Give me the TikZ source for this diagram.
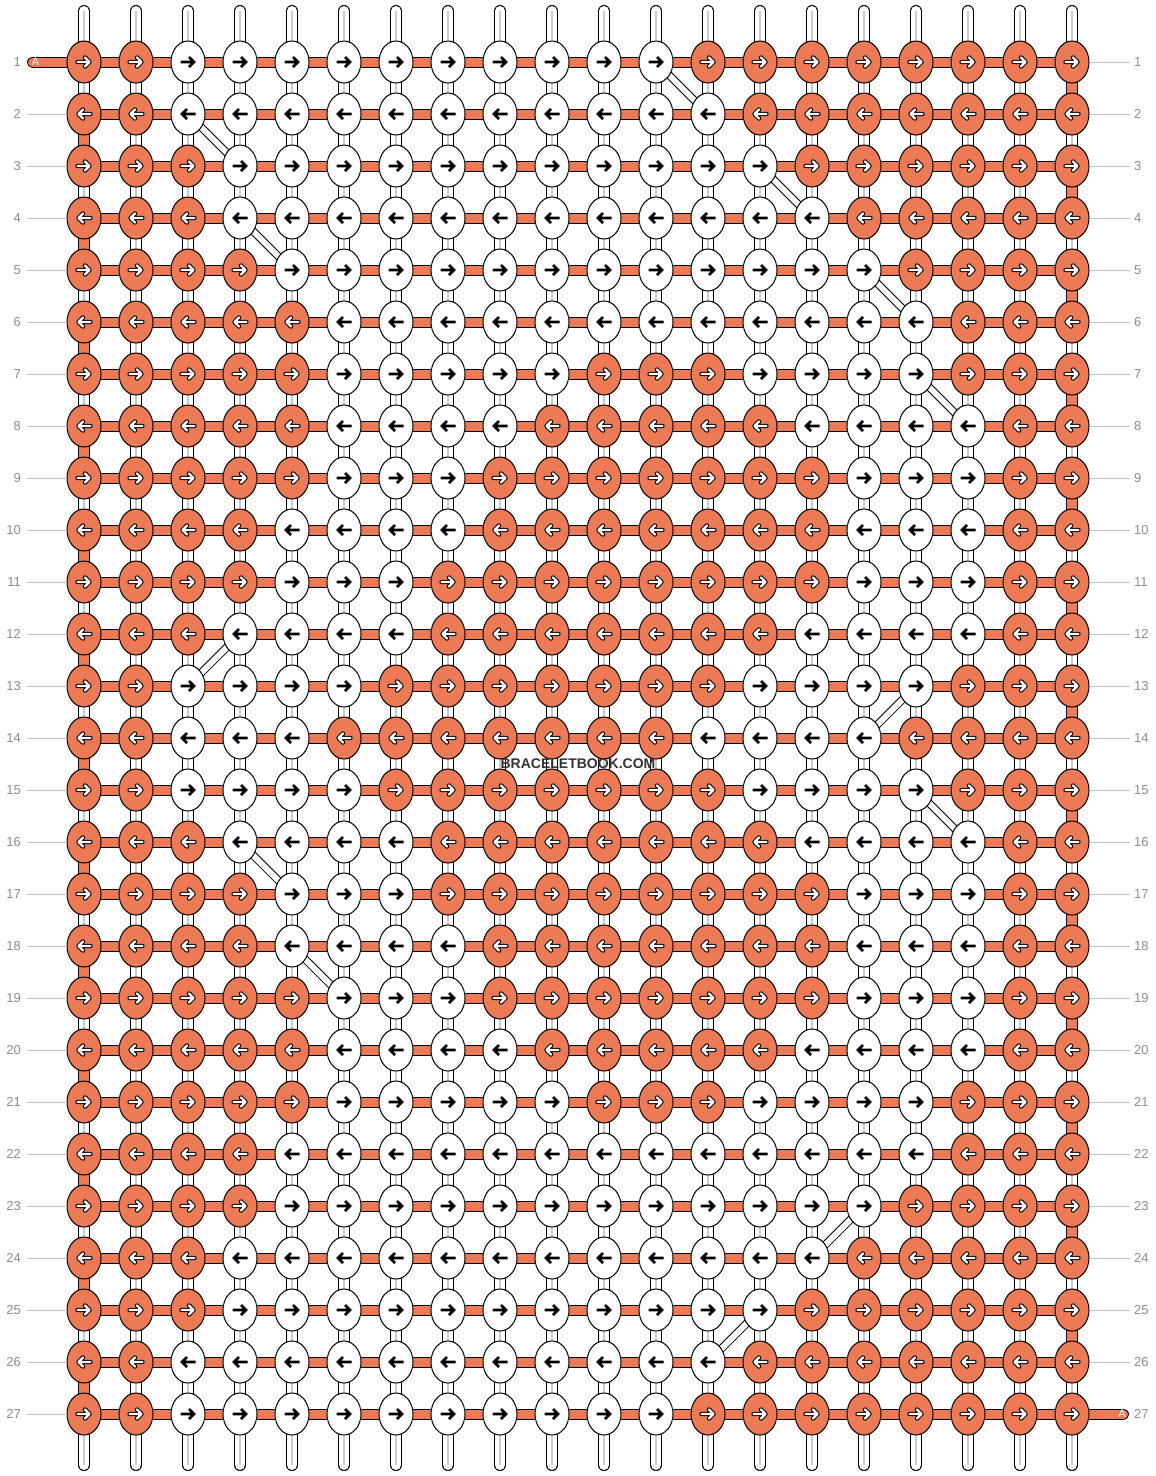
\documentclass[tikz,border=0pt]{standalone}
\usepackage{fontspec}
\setmainfont{Liberation Sans}
\usetikzlibrary{shapes.geometric}
\pgfdeclarelayer{background}
\pgfsetlayers{background,main}
\definecolor{kor}{RGB}{236,122,86}
\definecolor{labgray}{RGB}{140,140,140}
\definecolor{lingray}{RGB}{192,192,192}
\tikzset{
 knot/.style={ellipse, draw=black, line width=1pt, minimum width=34pt, minimum height=42pt, inner sep=0pt},
 tubeout/.style={draw=black, line width=12pt},
 tubein/.style={draw=white, line width=10pt},
 tubemid/.style={draw=gray!40, line width=1.2pt},
 turnin/.style={draw=kor, line width=10pt},
 barout/.style={draw=black, line width=11pt},
 barin/.style={draw=kor, line width=9pt},
 diagout/.style={draw=black, line width=8pt},
 diagin/.style={draw=white, line width=6pt},
 labline/.style={draw=lingray, line width=1pt},
 rowlab/.style={text=labgray, font=\fontsize{13}{15}\selectfont, inner sep=0pt},
 tag/.style={text=white, font=\fontsize{11}{13}\selectfont, inner sep=0pt},
 arrblack/.pic={\draw[line width=2.6pt] (-7.5,0)--(5,0) (1,-5)--(6,0)--(1,5);},
 arrwhite/.pic={\draw[black, line width=4.4pt, line join=round, line cap=round] (-6.5,0)--(5,0) (1,-4.5)--(5.5,0)--(1,4.5);
   \draw[white, line width=2.4pt, line join=round, line cap=round] (-6.5,0)--(5,0) (1,-4.5)--(5.5,0)--(1,4.5);}
}
\begin{document}
\begin{tikzpicture}[x=1pt,y=-1pt]
\useasboundingbox (0,0) rectangle (1156,1476);
% knots
\foreach \rowdata [count=\rr] in {
{1,1,0,0,0,0,0,0,0,0,0,0,1,1,1,1,1,1,1,1},
{1,1,0,0,0,0,0,0,0,0,0,0,0,1,1,1,1,1,1,1},
{1,1,1,0,0,0,0,0,0,0,0,0,0,0,1,1,1,1,1,1},
{1,1,1,0,0,0,0,0,0,0,0,0,0,0,0,1,1,1,1,1},
{1,1,1,1,0,0,0,0,0,0,0,0,0,0,0,0,1,1,1,1},
{1,1,1,1,1,0,0,0,0,0,0,0,0,0,0,0,0,1,1,1},
{1,1,1,1,1,0,0,0,0,0,1,1,1,0,0,0,0,1,1,1},
{1,1,1,1,1,0,0,0,0,1,1,1,1,1,0,0,0,0,1,1},
{1,1,1,1,1,0,0,0,1,1,1,1,1,1,1,0,0,0,1,1},
{1,1,1,1,0,0,0,0,1,1,1,1,1,1,1,0,0,0,1,1},
{1,1,1,1,0,0,0,1,1,1,1,1,1,1,1,0,0,0,1,1},
{1,1,1,0,0,0,0,1,1,1,1,1,1,1,0,0,0,0,1,1},
{1,1,0,0,0,0,1,1,1,1,1,1,1,0,0,0,0,1,1,1},
{1,1,0,0,0,1,1,1,1,1,1,1,0,0,0,0,1,1,1,1},
{1,1,0,0,0,0,1,1,1,1,1,1,1,0,0,0,0,1,1,1},
{1,1,1,0,0,0,0,1,1,1,1,1,1,1,0,0,0,0,1,1},
{1,1,1,1,0,0,0,1,1,1,1,1,1,1,1,0,0,0,1,1},
{1,1,1,1,0,0,0,0,1,1,1,1,1,1,1,0,0,0,1,1},
{1,1,1,1,1,0,0,0,1,1,1,1,1,1,1,0,0,0,1,1},
{1,1,1,1,1,0,0,0,0,1,1,1,1,1,0,0,0,0,1,1},
{1,1,1,1,1,0,0,0,0,0,1,1,1,0,0,0,0,1,1,1},
{1,1,1,1,0,0,0,0,0,0,0,0,0,0,0,0,0,1,1,1},
{1,1,1,1,0,0,0,0,0,0,0,0,0,0,0,0,1,1,1,1},
{1,1,1,0,0,0,0,0,0,0,0,0,0,0,0,1,1,1,1,1},
{1,1,1,0,0,0,0,0,0,0,0,0,0,0,1,1,1,1,1,1},
{1,1,0,0,0,0,0,0,0,0,0,0,0,1,1,1,1,1,1,1},
{1,1,0,0,0,0,0,0,0,0,0,0,1,1,1,1,1,1,1,1}} {
  \foreach \v [count=\cc] in \rowdata {
    \ifnum\v=1 \def\kf{kor}\else\def\kf{white}\fi
    \node[knot, fill=\kf] (k-\rr-\cc) at ({32+52*\cc},{10+52*\rr}) {};
    \ifnum\v=1
      \ifodd\rr\relax \pic at (k-\rr-\cc.center) {arrwhite};
      \else \pic[rotate=180] at (k-\rr-\cc.center) {arrwhite};
      \fi
    \else
      \ifodd\rr\relax \pic at (k-\rr-\cc.center) {arrblack};
      \else \pic[rotate=180] at (k-\rr-\cc.center) {arrblack};
      \fi
    \fi
  }
}
\begin{pgfonlayer}{background}
% top and bottom string ends
\foreach \cc in {1,...,20} {
  \coordinate (t-\cc) at ({32+52*\cc},11);
  \coordinate (b-\cc) at ({32+52*\cc},1465);
  \draw[tubeout, line cap=round] (t-\cc) -- (k-1-\cc.center);
  \draw[tubein, line cap=round] (t-\cc) -- (k-1-\cc.center);
  \draw[tubemid] (t-\cc) -- (k-1-\cc.center);
  \draw[tubeout, line cap=round] (k-27-\cc.center) -- (b-\cc);
  \draw[tubein, line cap=round] (k-27-\cc.center) -- (b-\cc);
  \draw[tubemid] (k-27-\cc.center) -- (b-\cc);
}
% vertical connectors between rows
\foreach \rr [count=\rn from 2] in {1,...,26} {
  \foreach \cc in {1,...,20} {
    \def\isturn{0}
    \ifnum\cc=20 \ifodd\rr\relax \def\isturn{1}\fi\fi
    \ifnum\cc=1 \ifodd\rr\relax\else \def\isturn{1}\fi\fi
    \draw[tubeout] (k-\rr-\cc.center) -- (k-\rn-\cc.center);
    \ifnum\isturn=1
      \draw[turnin] (k-\rr-\cc.center) -- (k-\rn-\cc.center);
    \else
      \draw[tubein] (k-\rr-\cc.center) -- (k-\rn-\cc.center);
      \draw[tubemid] (k-\rr-\cc.center) -- (k-\rn-\cc.center);
    \fi
  }
}
% horizontal working thread
\foreach \rr in {1,...,27} {
  \foreach \cc [count=\cn from 2] in {1,...,19} {
    \draw[barout] (k-\rr-\cc.center) -- (k-\rr-\cn.center);
    \draw[barin] (k-\rr-\cc.center) -- (k-\rr-\cn.center);
  }
}
\coordinate (s0) at (32.5,62);
\coordinate (e0) at (1123.5,1414);
\draw[barout, line cap=round] (s0) -- (k-1-1.center);
\draw[barin, line cap=round] (s0) -- (k-1-1.center);
\draw[barout, line cap=round] (k-27-20.center) -- (e0);
\draw[barin, line cap=round] (k-27-20.center) -- (e0);
% diagonal strands
\foreach \ra/\ca/\rb/\cb in {1/12/2/13, 2/3/3/4, 3/14/4/15, 4/4/5/5, 5/16/6/17, 7/17/8/18, 12/4/13/3, 13/17/14/16, 15/17/16/18, 16/4/17/5, 18/5/19/6, 23/16/24/15, 25/14/26/13} {
  \draw[diagout] (k-\ra-\ca.center) -- (k-\rb-\cb.center);
  \draw[diagin] (k-\ra-\ca.center) -- (k-\rb-\cb.center);
}
\end{pgfonlayer}
% row labels
\foreach \rr in {1,...,27} {
  \node[rowlab, anchor=east] (ll-\rr) at (21,{10+52*\rr}) {\rr};
  \node[rowlab, anchor=west] (rl-\rr) at (1134,{10+52*\rr}) {\rr};
}
\foreach \rr in {2,...,27} {
  \coordinate (lg-\rr) at (27,{10+52*\rr});
  \draw[labline] (lg-\rr) -- (k-\rr-1);
}
\foreach \rr in {1,...,26} {
  \coordinate (rg-\rr) at (1130,{10+52*\rr});
  \draw[labline] (k-\rr-20) -- (rg-\rr);
}
\node[tag] (sa) at (35.5,62) {A};
\node[tag] (ea) at (1122,1414) {A};
\node[text=black!80, font=\bfseries\fontsize{14}{16}\selectfont, inner sep=0pt] (wm) at (578,764) {BRACELETBOOK.COM};
\end{tikzpicture}
\end{document}
